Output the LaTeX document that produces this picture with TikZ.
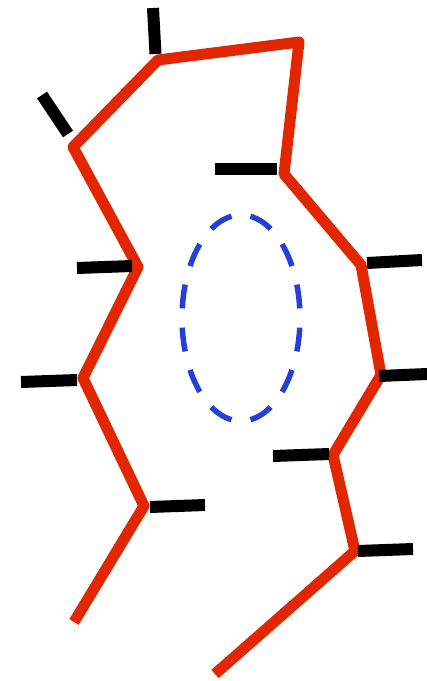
\documentclass[tikz,border=0pt]{standalone}
\begin{document}
\begin{tikzpicture}[x=1pt,y=-1pt,
  chain/.style={draw=chainred,line width=11pt,line join=round},
  tick/.style={draw=black,line width=12pt},
  ring/.style={draw=ringblue,line width=5.5pt,dash pattern=on 24pt off 19.2pt,dash phase=33.6pt}]
\definecolor{chainred}{RGB}{226,38,0}
\definecolor{ringblue}{RGB}{35,64,216}
\useasboundingbox (0,0) rectangle (427,681);
% chain vertices
\coordinate (p1) at (74,622);
\coordinate (p2) at (144,506);
\coordinate (p3) at (83,378);
\coordinate (p4) at (138,267);
\coordinate (p5) at (73,147);
\coordinate (p6) at (158,60);
\coordinate (p7) at (299,42);
\coordinate (p8) at (284,174);
\coordinate (p9) at (361,265);
\coordinate (p10) at (381,375);
\coordinate (p11) at (333,455);
\coordinate (p12) at (355,551);
\coordinate (p13) at (215,674);
\draw[chain] (p1) -- (p2) -- (p3) -- (p4) -- (p5) -- (p6) -- (p7) -- (p8) -- (p9) -- (p10) -- (p11) -- (p12) -- (p13);
% tick ends
\coordinate (t6) at (153,8);     \coordinate (s6) at (155.5,54);
\coordinate (t5) at (42,95);     \coordinate (s5) at (68,134);
\coordinate (t8) at (215,169);   \coordinate (s8) at (277,169);
\coordinate (t4) at (77,268);    \coordinate (s4) at (132,266);
\coordinate (t9) at (422,260);   \coordinate (s9) at (367,263);
\coordinate (t3) at (21,382);    \coordinate (s3) at (77,380);
\coordinate (t10) at (427,374);  \coordinate (s10) at (379,376);
\coordinate (t11) at (273,456);  \coordinate (s11) at (329,454);
\coordinate (t2) at (205,505);   \coordinate (s2) at (150,507);
\coordinate (t12) at (413,549);  \coordinate (s12) at (358,551);
\foreach \i in {2,3,4,5,6,8,9,10,11,12} \draw[tick] (t\i) -- (s\i);
% dashed ring
\coordinate (c) at (241,318);
\draw[ring] (c) ellipse [x radius=59, y radius=103];
\end{tikzpicture}
\end{document}
